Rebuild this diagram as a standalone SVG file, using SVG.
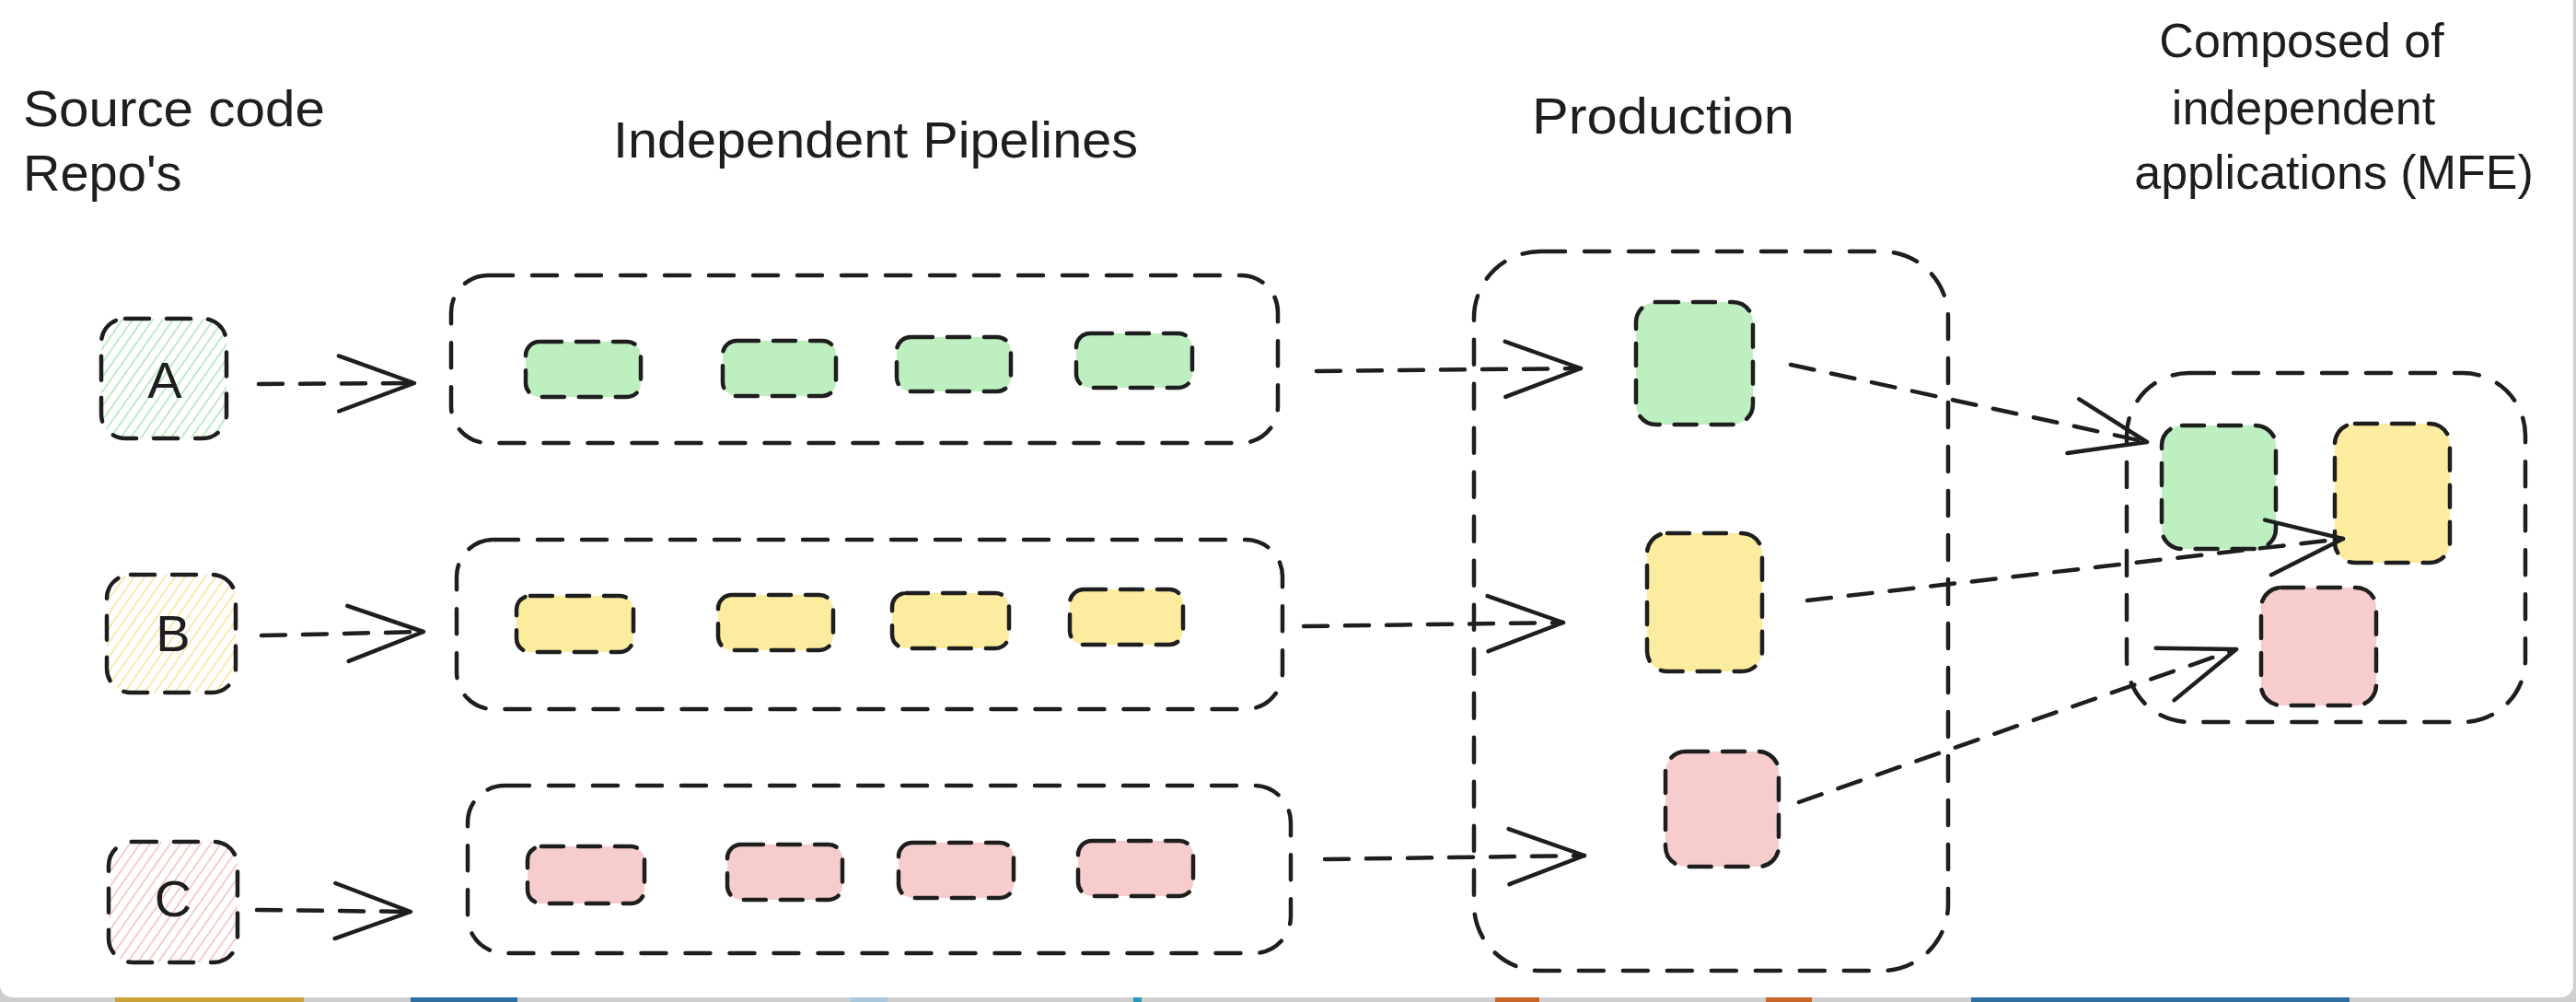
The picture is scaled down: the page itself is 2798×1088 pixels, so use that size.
<svg xmlns="http://www.w3.org/2000/svg" width="2798" height="1088" viewBox="0 0 2798 1088">
  <style>
    .lbl { font-family: "Liberation Sans", Arial, sans-serif; font-size: 56px; fill: #1e1e1e; }
    .lbl2 { font-family: "Liberation Sans", Arial, sans-serif; font-size: 52px; fill: #1e1e1e; text-anchor: middle; }
    .box { stroke: #1e1e1e; stroke-width: 4.5; stroke-dasharray: 26 19; stroke-linecap: round; }
    .sm { stroke: #1e1e1e; stroke-width: 4.5; stroke-dasharray: 24 16; stroke-linecap: round; }
    .cont { fill: none; stroke: #1e1e1e; stroke-width: 4.5; stroke-dasharray: 27 21; stroke-linecap: round; }
    .g { fill: #bdefc1; }
    .y { fill: #fcec9f; }
    .p { fill: #f6cccc; }
    .conn { fill: none; stroke: #1e1e1e; stroke-width: 4.5; stroke-dasharray: 26 19; stroke-linecap: round; marker-end: url(#ah); }
  </style>
  <defs>
    <marker id="ah" markerUnits="userSpaceOnUse" viewBox="-95 -45 105 90" refX="0" refY="0" markerWidth="105" markerHeight="90" orient="auto" overflow="visible">
      <path d="M-82,-30 L0,0 L-82,30" fill="none" stroke="#1e1e1e" stroke-width="4.5" stroke-linecap="round" stroke-linejoin="round" stroke-dasharray="none"/>
    </marker>
    <pattern id="hg" patternUnits="userSpaceOnUse" width="9" height="9" patternTransform="rotate(35)">
      <line x1="2" y1="0" x2="2" y2="9" stroke="#a8e6b1" stroke-width="1.5"/>
    </pattern>
    <pattern id="hy" patternUnits="userSpaceOnUse" width="9" height="9" patternTransform="rotate(35)">
      <line x1="2" y1="0" x2="2" y2="9" stroke="#f5e294" stroke-width="1.5"/>
    </pattern>
    <pattern id="hp" patternUnits="userSpaceOnUse" width="9" height="9" patternTransform="rotate(35)">
      <line x1="2" y1="0" x2="2" y2="9" stroke="#f3bcbc" stroke-width="1.5"/>
    </pattern>
  </defs>

  <!-- page background -->
  <rect x="0" y="0" width="2798" height="1088" fill="#cfcfcf"/>
  <rect x="125" y="1082" width="205" height="6" fill="#c9a23a"/>
  <rect x="446" y="1082" width="116" height="6" fill="#2f6f9f"/>
  <rect x="924" y="1082" width="40" height="6" fill="#a9c7dd"/>
  <rect x="1231" y="1082" width="9" height="6" fill="#2a9ab0"/>
  <rect x="1624" y="1082" width="48" height="6" fill="#c8662a"/>
  <rect x="1918" y="1082" width="50" height="6" fill="#c8662a"/>
  <rect x="2141" y="1082" width="411" height="6" fill="#2f6f9f"/>
  <rect x="0" y="-20" width="2795" height="1103" rx="14" fill="#ffffff"/>

  <!-- titles -->
  <g id="title-source">
    <text class="lbl" x="25" y="137" textLength="328" lengthAdjust="spacingAndGlyphs">Source code</text>
    <text class="lbl" x="25" y="207">Repo's</text>
  </g>
  <g id="title-pipelines">
    <text class="lbl" x="666" y="171" textLength="570" lengthAdjust="spacingAndGlyphs">Independent Pipelines</text>
  </g>
  <g id="title-production">
    <text class="lbl" x="1664" y="145" textLength="285" lengthAdjust="spacingAndGlyphs">Production</text>
  </g>
  <g id="title-mfe">
    <text class="lbl2" x="2500" y="62">Composed of</text>
    <text class="lbl2" x="2502" y="135">independent</text>
    <text class="lbl2" x="2535" y="205">applications (MFE)</text>
  </g>

  <!-- source repos -->
  <g id="repo-a">
    <rect class="box" x="110" y="346" width="136" height="130" rx="26" fill="url(#hg)"/>
    <text class="lbl" x="179" y="432" text-anchor="middle">A</text>
  </g>
  <g id="repo-b">
    <rect class="box" x="116" y="624" width="140" height="128" rx="26" fill="url(#hy)"/>
    <text class="lbl" x="188" y="707" text-anchor="middle">B</text>
  </g>
  <g id="repo-c">
    <rect class="box" x="118" y="914" width="140" height="131" rx="26" fill="url(#hp)"/>
    <text class="lbl" x="188" y="995" text-anchor="middle">C</text>
  </g>

  <!-- pipelines -->
  <g id="pipeline-a">
    <rect class="cont" x="490" y="299" width="898" height="182" rx="40"/>
    <rect class="sm g" x="571" y="371" width="125" height="60" rx="15"/>
    <rect class="sm g" x="785" y="370" width="123" height="60" rx="15"/>
    <rect class="sm g" x="974" y="366" width="124" height="59" rx="15"/>
    <rect class="sm g" x="1169" y="362" width="126" height="59" rx="15"/>
  </g>
  <g id="pipeline-b">
    <rect class="cont" x="496" y="586" width="897" height="184" rx="40"/>
    <rect class="sm y" x="561" y="647" width="127" height="61" rx="15"/>
    <rect class="sm y" x="780" y="646" width="125" height="60" rx="15"/>
    <rect class="sm y" x="969" y="644" width="127" height="60" rx="15"/>
    <rect class="sm y" x="1162" y="640" width="123" height="60" rx="15"/>
  </g>
  <g id="pipeline-c">
    <rect class="cont" x="508" y="853" width="894" height="182" rx="40"/>
    <rect class="sm p" x="573" y="919" width="127" height="62" rx="15"/>
    <rect class="sm p" x="790" y="917" width="125" height="60" rx="15"/>
    <rect class="sm p" x="976" y="915" width="125" height="60" rx="15"/>
    <rect class="sm p" x="1171" y="913" width="125" height="60" rx="15"/>
  </g>

  <!-- production -->
  <g id="production">
    <rect class="cont" x="1601" y="273" width="515" height="781" rx="72"/>
    <g id="prod-a"><rect class="sm g" x="1777" y="328" width="127" height="133" rx="22"/></g>
    <g id="prod-b"><rect class="sm y" x="1789" y="579" width="125" height="150" rx="22"/></g>
    <g id="prod-c"><rect class="sm p" x="1809" y="816" width="123" height="125" rx="22"/></g>
  </g>

  <!-- composed MFE -->
  <g id="mfe">
    <rect class="cont" x="2310" y="405" width="433" height="379" rx="68"/>
    <g id="mfe-a"><rect class="sm g" x="2348" y="462" width="124" height="134" rx="22"/></g>
    <g id="mfe-b"><rect class="sm y" x="2536" y="460" width="125" height="151" rx="22"/></g>
    <g id="mfe-c"><rect class="sm p" x="2456" y="638" width="125" height="128" rx="22"/></g>
  </g>

  <!-- connectors -->
  <g id="connectors">
    <path class="conn" d="M281,417 L450,416"/>
    <path class="conn" d="M284,690 L460,686"/>
    <path class="conn" d="M279,988 L446,990"/>
    <path class="conn" d="M1430,403 L1717,400"/>
    <path class="conn" d="M1416,680 L1698,676"/>
    <path class="conn" d="M1439,933 L1721,929"/>
    <path class="conn" d="M1945,396 L2332,480"/>
    <path class="conn" d="M1963,652 L2545,585"/>
    <path class="conn" d="M1954,871 L2429,705"/>
  </g>
</svg>
